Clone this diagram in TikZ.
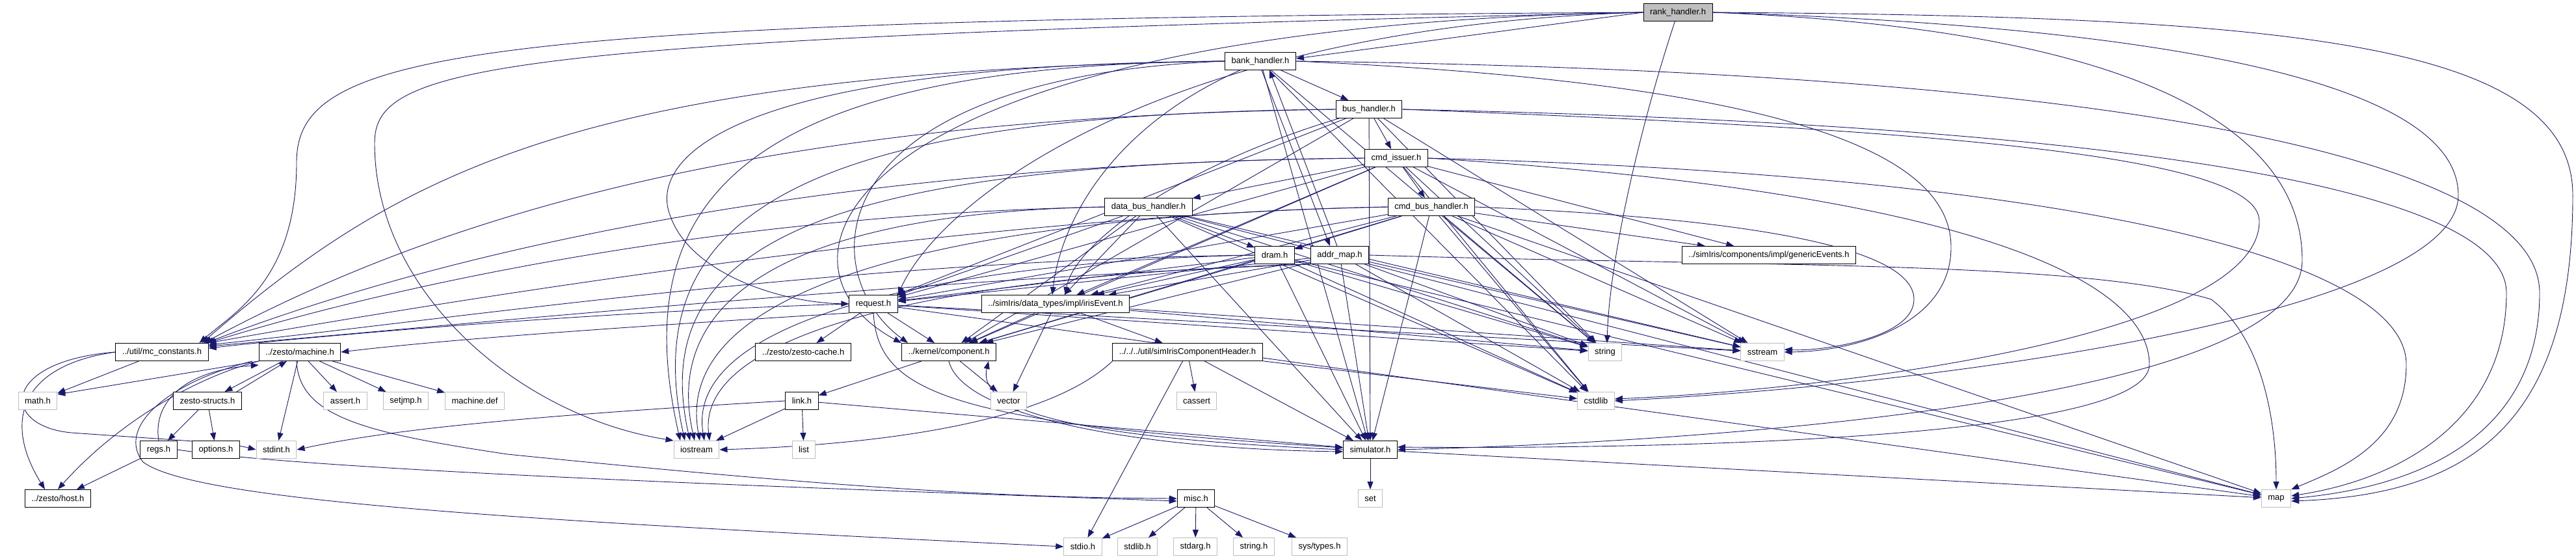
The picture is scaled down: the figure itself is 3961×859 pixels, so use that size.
\documentclass[tikz,border=0pt]{standalone}
\usepackage{fontspec}
\setmainfont{Liberation Sans}
\usetikzlibrary{arrows.meta,backgrounds}
\definecolor{eblue}{HTML}{191970}
\definecolor{sysgray}{HTML}{BFBFBF}
\begin{document}
\begin{tikzpicture}[x=1pt,y=-1pt,
  nd/.style={draw=black,line width=1pt,fill=white,rectangle,minimum height=27pt,inner xsep=10pt,inner ysep=0pt,font=\fontsize{13}{15}\selectfont},
  sys/.style={nd,draw=sysgray},
  hl/.style={nd,fill=sysgray},
  e/.style={draw=eblue,line width=0.9pt,-{Triangle[length=12pt,width=9pt]}}]
\useasboundingbox (0,0) rectangle (3961,859);
% nodes
\node[hl] (rank) at (2580,19) {rank\_handler.h};
\node[nd] (bank) at (1938,94) {bank\_handler.h};
\node[nd] (bus) at (2105,168) {bus\_handler.h};
\node[nd] (cmdiss) at (2147,243) {cmd\_issuer.h};
\node[nd] (databus) at (1766,318) {data\_bus\_handler.h};
\node[nd] (cmdbus) at (2201,318) {cmd\_bus\_handler.h};
\node[nd] (dram) at (1960,392) {dram.h};
\node[nd] (addrmap) at (2060,392) {addr\_map.h};
\node[nd] (gevents) at (2720,392) {../simIris/components/impl/genericEvents.h};
\node[nd] (request) at (1343,467) {request.h};
\node[nd] (iris) at (1623,467) {../simIris/data\_types/impl/irisEvent.h};
\node[nd] (mcconst) at (249,541) {../util/mc\_constants.h};
\node[nd] (machine) at (461,541) {../zesto/machine.h};
\node[nd] (zcache) at (1235,541) {../zesto/zesto-cache.h};
\node[nd] (component) at (1459,541) {../kernel/component.h};
\node[nd] (sich) at (1826,541) {../../../util/simIrisComponentHeader.h};
\node[sys] (string) at (2468,541) {string};
\node[sys] (sstream) at (2710,541) {sstream};
\node[sys] (math) at (58,616) {math.h};
\node[nd] (zstructs) at (319,616) {zesto-structs.h};
\node[sys] (assert) at (531,616) {assert.h};
\node[sys] (setjmp) at (624,616) {setjmp.h};
\node[sys] (mdef) at (730,616) {machine.def};
\node[nd] (link) at (1233,616) {link.h};
\node[sys] (vector) at (1551,616) {vector};
\node[sys] (cassert) at (1840,616) {cassert};
\node[sys] (cstdlib) at (2454,616) {cstdlib};
\node[nd] (regs) at (244,691) {regs.h};
\node[nd] (options) at (332,691) {options.h};
\node[sys] (stdint) at (425,691) {stdint.h};
\node[sys] (iostream) at (1071,691) {iostream};
\node[sys] (list) at (1236,691) {list};
\node[nd] (simulator) at (2107,691) {simulator.h};
\node[nd] (host) at (89,766) {../zesto/host.h};
\node[nd] (misc) at (1839,766) {misc.h};
\node[sys] (set) at (2107,766) {set};
\node[sys] (map) at (3500,766) {map};
\node[sys] (stdio) at (1665,840) {stdio.h};
\node[sys] (stdlibh) at (1749,840) {stdlib.h};
\node[sys] (stdarg) at (1838,840) {stdarg.h};
\node[sys] (stringh) at (1928,840) {string.h};
\node[sys] (systypes) at (2029,840) {sys/types.h};
\begin{scope}[on background layer]
% chain of handlers
\draw[e] (rank.west) -- ([yshift=4pt]bank.east);
\draw[e] (bank) -- (bus);
\draw[e] (bus) -- (cmdiss);
\draw[e] (cmdiss) -- (databus);
\draw[e] (cmdiss) -- (cmdbus);
\draw[e] (cmdiss) -- (gevents);
\draw[e] (cmdbus) -- (gevents);
\draw[e] (databus) -- (dram);
\draw[e] (cmdbus) -- (dram);
\draw[e] ([xshift=2pt]bank.south) -- ([xshift=-15pt]addrmap.north);
\draw[e] ([xshift=-4pt]addrmap.north) -- ([xshift=14pt]bank.south);
% to mc_constants
\draw[e] (rank.west) .. controls (700,30) and (456,80) .. (456,250) .. controls (456,430) and (360,480) .. ([xshift=-14pt]mcconst.north east);
\draw[e] (bank.west) .. controls (900,110) and (620,260) .. ([xshift=-10pt]mcconst.north east);
\draw[e] (bus.west) .. controls (1200,180) and (700,320) .. ([xshift=-7pt]mcconst.north east);
\draw[e] (cmdiss.west) .. controls (1300,250) and (700,380) .. ([xshift=-4pt]mcconst.north east);
\draw[e] (databus.west) .. controls (1100,330) and (600,440) .. ([xshift=-1pt]mcconst.north east);
\draw[e] (cmdbus.west) .. controls (1500,330) and (700,460) .. (mcconst.north east);
\draw[e] (dram.west) .. controls (1300,400) and (700,490) .. ([yshift=-3pt]mcconst.north east);
\draw[e] (addrmap.south west) .. controls (1400,430) and (700,500) .. ([yshift=-5pt]mcconst.north east);
\draw[e] (request.west) .. controls (900,480) and (500,515) .. ([yshift=-8pt]mcconst.north east);
% to iostream
\draw[e] (rank.west) .. controls (750,60) and (576,100) .. (576,220) .. controls (576,450) and (800,640) .. (iostream.north west);
\draw[e] (bank.west) .. controls (1150,100) and (960,300) .. ([xshift=-25pt]iostream.north);
\draw[e] (bus.west) .. controls (1250,175) and (975,320) .. ([xshift=-18pt]iostream.north);
\draw[e] (cmdiss.west) .. controls (1300,250) and (990,360) .. ([xshift=-10pt]iostream.north);
\draw[e] (databus.west) .. controls (1300,325) and (1010,420) .. ([xshift=-3pt]iostream.north);
\draw[e] (cmdbus.west) .. controls (1500,330) and (1030,430) .. ([xshift=5pt]iostream.north);
\draw[e] (dram.west) .. controls (1500,400) and (1050,480) .. ([xshift=12pt]iostream.north);
\draw[e] (addrmap.south west) .. controls (1500,420) and (1070,500) .. ([xshift=20pt]iostream.north);
\draw[e] (link) -- (iostream);
\draw[e] (sich.south west) .. controls (1600,660) and (1300,685) .. (iostream.east);
% to request
\draw[e] (bank.west) .. controls (1100,100) and (1000,250) .. (1030,330) .. controls (1060,420) and (1200,465) .. (request.west);
\draw[e] (rank.west) .. controls (1800,40) and (1450,300) .. (request.north east);
\foreach \s in {bus,cmdiss,databus,cmdbus,dram,addrmap} \draw[e] (\s) -- (request);
% to irisEvent
\draw[e] (bank) .. controls (1700,200) and (1630,350) .. ([xshift=-5pt]iris.north);
\draw[e] (bus) .. controls (1800,260) and (1650,380) .. ([xshift=15pt]iris.north);
\foreach \s in {cmdiss,databus,cmdbus,dram,addrmap} \draw[e] (\s) -- (iris);
% to component
\draw[e] (rank.west) .. controls (1300,40) and (1150,400) .. (component.north west);
\draw[e] (bank.west) .. controls (1250,120) and (1250,420) .. ([xshift=10pt]component.north west);
\foreach \s in {bus,cmdiss,databus,cmdbus,dram,addrmap,request,iris} \draw[e] (\s) -- (component);
% request
\draw[e] (request) -- (zcache);
\draw[e] (request.south west) .. controls (1000,500) and (700,520) .. (machine.east);
\draw[e] (request.south) .. controls (1350,600) and (1450,650) .. ([yshift=3pt]simulator.west);
% irisEvent
\draw[e] (iris) -- (sich);
\draw[e] (iris) -- (vector);
% to string, sstream, cstdlib
\draw[e] (rank) .. controls (2520,200) and (2475,400) .. ([xshift=3pt]string.north);
\foreach \s in {bank,bus,cmdiss,databus,cmdbus,dram,addrmap,request,iris} \draw[e] (\s) -- (string);
\foreach \s in {bus,cmdiss,databus,cmdbus,addrmap,request,iris} \draw[e] (\s) -- (sstream);
\foreach \s in {bank,cmdiss,databus,cmdbus,dram,addrmap,sich} \draw[e] (\s) -- (cstdlib);
% to simulator
\foreach \s in {bank,bus,databus,cmdbus,dram,addrmap,link,sich} \draw[e] (\s) -- (simulator);
\draw[e] (component.south) .. controls (1480,640) and (1750,690) .. ([yshift=-3pt]simulator.west);
\draw[e] (simulator.west) .. controls (1700,675) and (1500,640) .. ([xshift=-12pt]component.south east);
% to map
\foreach \s in {databus,cmdbus,dram,request,simulator} \draw[e] (\s) -- (map);
% right-side detours
\draw[e] (rank.east) .. controls (3500,25) and (3956,60) .. (3956,300) .. controls (3956,650) and (3800,760) .. ([yshift=-4pt]map.east);
\draw[e] (bank.east) .. controls (3300,110) and (3905,250) .. (3905,450) .. controls (3905,650) and (3750,745) .. (map.east);
\draw[e] (bus.east) .. controls (3200,190) and (3854,280) .. (3854,450) .. controls (3854,640) and (3700,735) .. ([yshift=4pt]map.east);
\draw[e] (cmdiss.east) .. controls (3200,270) and (3700,400) .. (3700,560) .. controls (3700,680) and (3600,720) .. (map.north east);
\draw[e] (addrmap.east) .. controls (2700,410) and (3200,400) .. (3400,460) .. controls (3480,520) and (3500,650) .. (map.north);
\draw[e] (rank.east) .. controls (3300,40) and (3780,120) .. (3780,300) .. controls (3780,480) and (3000,590) .. (cstdlib.east);
\draw[e] (rank.east) .. controls (3400,50) and (3540,250) .. (3540,400) .. controls (3540,620) and (2600,680) .. (simulator.east);
\draw[e] (bank.east) .. controls (2800,130) and (3000,250) .. (3000,380) .. controls (3000,500) and (2850,540) .. (sstream.east);
\draw[e] (bus.east) .. controls (3000,200) and (3474,240) .. (3474,340) .. controls (3474,520) and (2800,600) .. ([yshift=3pt]cstdlib.east);
\draw[e] (cmdiss.east) .. controls (3100,300) and (3305,450) .. (3305,560) .. controls (3305,680) and (2500,690) .. ([yshift=4pt]simulator.east);
\draw[e] (cmdbus.east) .. controls (2800,340) and (2943,400) .. (2943,460) .. controls (2943,520) and (2800,540) .. ([yshift=4pt]sstream.east);
% component, simulator, link, sich
\draw[e] (component) -- (link);
\draw[e] (component) -- (vector);
\draw[e] (simulator) -- (set);
\draw[e] (link) -- (list);
\draw[e] (link.west) .. controls (800,640) and (600,660) .. (stdint.east);
\draw[e] (sich) -- (cassert);
\draw[e] (sich) -- (stdio);
% zesto side
\draw[e] (mcconst) -- (math);
\draw[e] (mcconst.west) .. controls (0,555) and (0,655) .. (110,665) .. controls (250,675) and (350,680) .. (stdint.west);
\draw[e] (mcconst.west) .. controls (40,560) and (0,640) .. ([xshift=-20pt]host.north);
\draw[e] (machine.south west) -- ([yshift=-4pt]math.north east);
\draw[e] (machine) -- (zstructs);
\draw[e] ([xshift=-8pt]zstructs.north east) -- ([xshift=-20pt]machine.south);
\draw[e] (machine) -- (assert);
\draw[e] (machine) -- (setjmp);
\draw[e] (machine) -- (mdef);
\draw[e] (machine) -- (stdint);
\draw[e] (machine.south west) .. controls (300,580) and (180,650) .. (host.north);
\draw[e] ([xshift=-5pt]machine.south) .. controls (460,640) and (560,665) .. (780,698) .. controls (1200,740) and (1500,765) .. (misc.west);
\draw[e] ([xshift=-10pt]machine.south west) .. controls (250,590) and (180,660) .. (220,710) .. controls (300,770) and (800,800) .. (stdio.west);
\draw[e] (zstructs) -- (regs);
\draw[e] (zstructs) -- (options);
\draw[e] (regs) -- (host);
\draw[e] (regs.north) .. controls (235,620) and (280,570) .. ([yshift=-6pt]machine.south west);
\draw[e] (regs.east) .. controls (500,725) and (1300,752) .. ([yshift=-4pt]misc.west);
\draw[e] (misc) -- (stdio);
\draw[e] (misc) -- (stdlibh);
\draw[e] (misc) -- (stdarg);
\draw[e] (misc) -- (stringh);
\draw[e] (misc) -- (systypes);
\end{scope}
\end{tikzpicture}
\end{document}
